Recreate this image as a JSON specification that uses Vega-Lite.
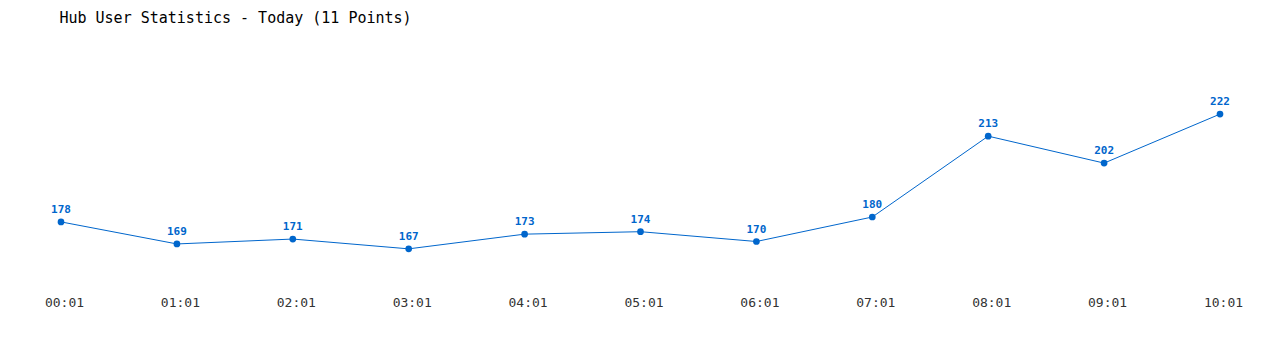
{
  "$schema": "https://vega.github.io/schema/vega-lite/v6.json",
  "autosize": {"type": "none"},
  "width": 1159,
  "height": 245,
  "padding": {"left": 61, "top": 45.5, "right": 60, "bottom": 59.5},
  "background": "white",
  "title": {"text": "Hub User Statistics - Today (11 Points)", "anchor": "start", "font": "DejaVu Sans Mono", "fontSize": 15, "fontWeight": "normal", "color": "#000000", "offset": 20, "dx": 15},
  "config": {"view": {"stroke": null}},
  "data": {"values": [
    {"time": "00:01", "users": 178},
    {"time": "01:01", "users": 169},
    {"time": "02:01", "users": 171},
    {"time": "03:01", "users": 167},
    {"time": "04:01", "users": 173},
    {"time": "05:01", "users": 174},
    {"time": "06:01", "users": 170},
    {"time": "07:01", "users": 180},
    {"time": "08:01", "users": 213},
    {"time": "09:01", "users": 202},
    {"time": "10:01", "users": 222}
  ]},
  "encoding": {
    "x": {"field": "time", "type": "ordinal", "scale": {"type": "point", "padding": 0},
          "axis": {"title": null, "labelAngle": 0, "ticks": false, "domain": false, "grid": false, "labelFont": "DejaVu Sans Mono", "labelFontSize": 13, "labelColor": "#333333", "labelPadding": 6, "labelOverlap": false, "labelBound": false, "labelFlush": false, "labelOffset": 3}},
    "y": {"field": "users", "type": "quantitative", "scale": {"domain": [150, 250], "nice": false, "zero": false}, "axis": null}
  },
  "layer": [
    {"mark": {"type": "line", "color": "#0066cc", "strokeWidth": 1}},
    {"mark": {"type": "point", "filled": true, "color": "#0066cc", "size": 45, "opacity": 1}},
    {"mark": {"type": "text", "color": "#0066cc", "font": "DejaVu Sans Mono", "fontWeight": "bold", "fontSize": 11, "dy": -9, "baseline": "alphabetic"}, "encoding": {"text": {"field": "users", "type": "quantitative"}}}
  ]
}
